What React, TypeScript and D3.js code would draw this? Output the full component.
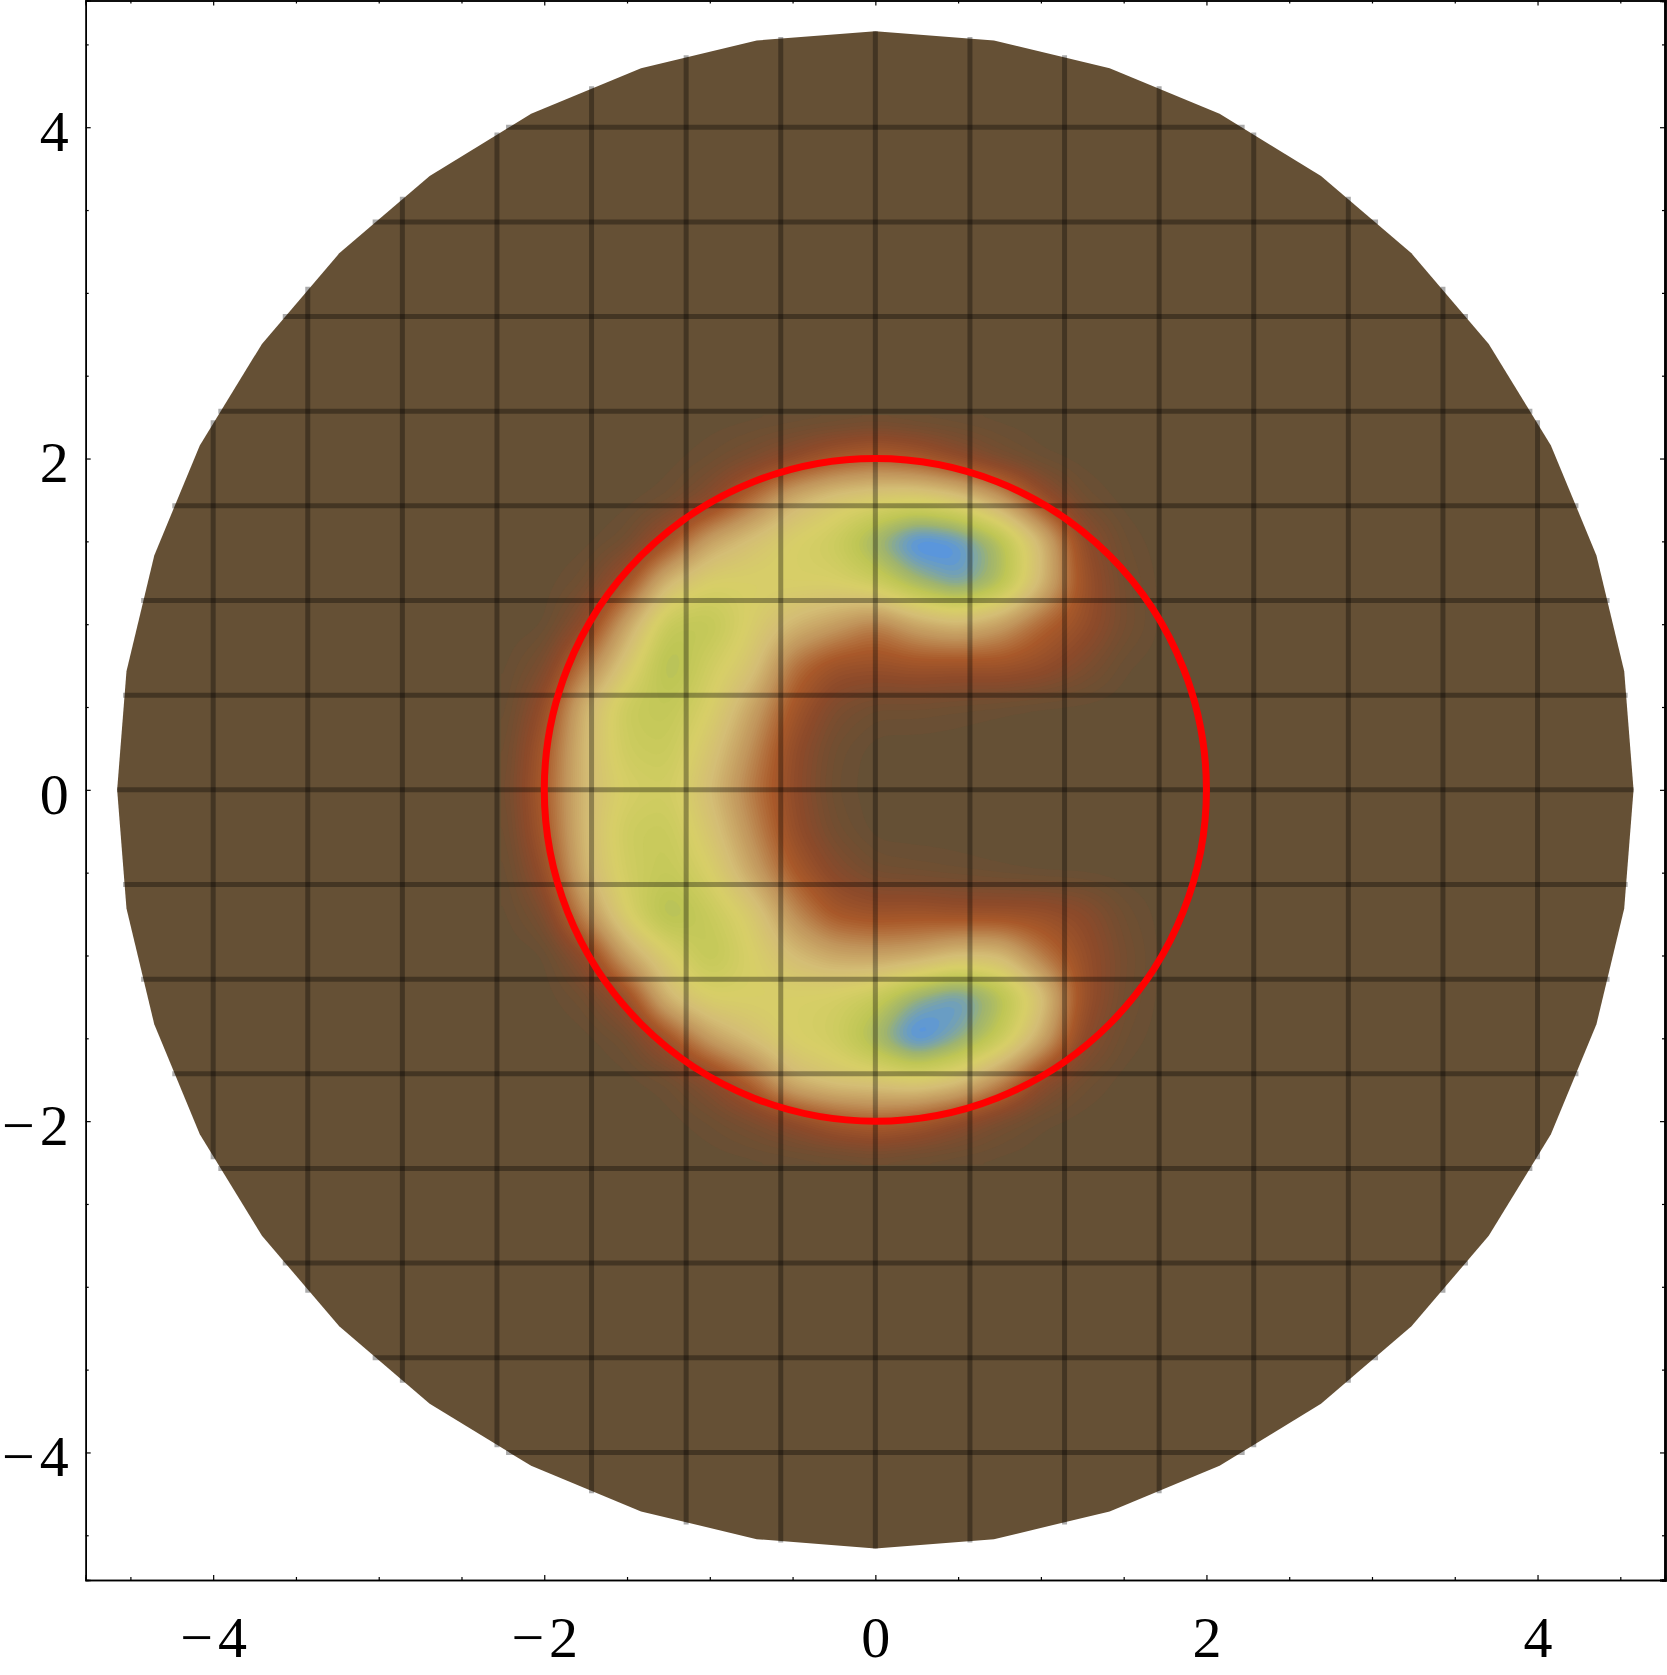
import React, { useEffect, useRef } from 'react';
import * as d3 from 'd3';

// axes
const majorTicks = [-4, -2, 0, 2, 4];
const minorTicks = [-4.5, -3.5, -3, -2.5, -1.5, -1, -0.5, 0.5, 1, 1.5, 2.5, 3, 3.5, 4.5];

// mesh lines drawn over the disc
const meshValues = [-4, -3.4286, -2.8571, -2.2857, -1.7143, -1.1429, -0.5714, 0, 0.5714, 1.1429, 1.7143, 2.2857, 2.8571, 3.4286, 4];
const discRadius = 4.58;
const discSides = 40;
const circleRadius = 2;

// density, one row per y, one column per x
const fieldX = [-2.25, -2, -1.75, -1.5, -1.25, -1, -0.75, -0.5, -0.25, 0, 0.25, 0.5, 0.75, 1, 1.25, 1.5, 1.75];
const fieldY = [2.25, 2, 1.75, 1.5, 1.25, 1, 0.75, 0.5, 0.25, 0, -0.25, -0.5, -0.75, -1, -1.25, -1.5, -1.75, -2, -2.25];
const fieldRows = [
  [0, 0, 0, 0, 0, 0, 0, 0, 0, 0.01, 0, 0, 0, 0, 0, 0, 0],
  [0, 0, 0, 0, 0, 0.02, 0.06, 0.12, 0.2, 0.24, 0.2, 0.12, 0.05, 0.01, 0, 0, 0],
  [0, 0, 0, 0, 0.02, 0.1, 0.27, 0.46, 0.56, 0.6, 0.62, 0.56, 0.4, 0.16, 0.03, 0, 0],
  [0, 0, 0, 0.03, 0.18, 0.42, 0.53, 0.62, 0.68, 0.84, 1, 0.96, 0.8, 0.5, 0.14, 0.02, 0],
  [0, 0, 0.03, 0.18, 0.5, 0.62, 0.62, 0.62, 0.62, 0.68, 0.82, 0.92, 0.8, 0.5, 0.18, 0.04, 0],
  [0, 0, 0.12, 0.42, 0.72, 0.74, 0.6, 0.48, 0.4, 0.3, 0.42, 0.48, 0.4, 0.25, 0.16, 0.05, 0],
  [0, 0.06, 0.3, 0.56, 0.8, 0.66, 0.55, 0.28, 0.17, 0.16, 0.18, 0.17, 0.18, 0.15, 0.08, 0.01, 0],
  [0, 0.14, 0.48, 0.7, 0.73, 0.62, 0.42, 0.2, 0.07, 0.03, 0.03, 0.02, 0.01, 0, 0, 0, 0],
  [0.01, 0.2, 0.5, 0.68, 0.7, 0.55, 0.35, 0.14, 0.03, 0, 0, 0, 0, 0, 0, 0, 0],
  [0.02, 0.22, 0.5, 0.63, 0.66, 0.5, 0.3, 0.13, 0.02, 0, 0, 0, 0, 0, 0, 0, 0],
  [0.01, 0.2, 0.5, 0.68, 0.7, 0.55, 0.35, 0.15, 0.04, 0, 0, 0, 0, 0, 0, 0, 0],
  [0, 0.14, 0.48, 0.66, 0.72, 0.62, 0.42, 0.22, 0.1, 0.04, 0.03, 0.02, 0.01, 0, 0, 0, 0],
  [0, 0.06, 0.35, 0.62, 0.8, 0.7, 0.58, 0.35, 0.2, 0.17, 0.18, 0.16, 0.16, 0.16, 0.12, 0.03, 0],
  [0, 0, 0.12, 0.42, 0.6, 0.74, 0.62, 0.5, 0.42, 0.4, 0.42, 0.5, 0.5, 0.3, 0.16, 0.05, 0],
  [0, 0, 0.03, 0.15, 0.5, 0.62, 0.62, 0.62, 0.64, 0.7, 0.86, 0.95, 0.8, 0.55, 0.17, 0.04, 0],
  [0, 0, 0, 0.03, 0.18, 0.4, 0.52, 0.62, 0.66, 0.82, 1, 0.88, 0.72, 0.45, 0.12, 0.02, 0],
  [0, 0, 0, 0, 0.02, 0.1, 0.25, 0.48, 0.55, 0.56, 0.6, 0.54, 0.35, 0.12, 0.03, 0, 0],
  [0, 0, 0, 0, 0, 0.02, 0.06, 0.12, 0.2, 0.24, 0.2, 0.12, 0.05, 0.01, 0, 0, 0],
  [0, 0, 0, 0, 0, 0, 0, 0, 0, 0.01, 0, 0, 0, 0, 0, 0, 0],
];

// value -> colour
const colourStops = [0, 0.12, 0.22, 0.36, 0.5, 0.62, 0.74, 0.83, 0.94];
const colourValues = ['#655035', '#8c4a2a', '#a9592a', '#c0935a', '#d4bd75', '#d7cf67', '#bfc655', '#9fb46e', '#5a96dc'];

const width = 1667;
const height = 1675;
const margin = { top: 0.5, right: 2, bottom: 95, left: 85.7 };

const App = () => {
  const svgRef = useRef<SVGSVGElement>(null);

  useEffect(() => {
    const svg = d3.select(svgRef.current);
    svg.selectAll('*').remove();

    const x = d3.scaleLinear().domain([-4.77, 4.77]).range([margin.left, width - margin.right]);
    const y = d3.scaleLinear().domain([-4.77, 4.765]).range([height - margin.bottom, margin.top]);
    const colour = d3.scaleLinear<string>().domain(colourStops).range(colourValues).clamp(true);

    // disc
    const disc = d3.range(discSides).map((i) => {
      const a = (i / discSides) * 2 * Math.PI;
      return [x(discRadius * Math.cos(a)), y(discRadius * Math.sin(a))];
    });
    svg
      .append('path')
      .attr('d', `M${disc.join('L')}Z`)
      .attr('fill', '#655035');

    // resample the table finer so d3.contours gives smooth shading
    const sub = 10;
    const nx = (fieldX.length - 1) * sub + 1;
    const ny = (fieldY.length - 1) * sub + 1;
    const fine = new Float64Array(nx * ny);
    for (let j = 0; j < ny; j++) {
      const r = Math.min(Math.floor(j / sub), fieldY.length - 2);
      const v = j / sub - r;
      for (let i = 0; i < nx; i++) {
        const c = Math.min(Math.floor(i / sub), fieldX.length - 2);
        const u = i / sub - c;
        const top = fieldRows[r][c] * (1 - u) + fieldRows[r][c + 1] * u;
        const bottom = fieldRows[r + 1][c] * (1 - u) + fieldRows[r + 1][c + 1] * u;
        fine[j * nx + i] = top * (1 - v) + bottom * v;
      }
    }
    d3.blur2({ data: fine, width: nx, height: ny }, 2);

    const stepX = fieldX[1] - fieldX[0];
    const stepY = fieldY[1] - fieldY[0];
    const project = d3.geoTransform({
      point(px, py) {
        this.stream.point(
          x(fieldX[0] + ((px - 0.5) / sub) * stepX),
          y(fieldY[0] + ((py - 0.5) / sub) * stepY)
        );
      },
    });
    const thresholds = d3.range(0.01, 1, 0.0125);
    const contours = d3.contours().size([nx, ny]).thresholds(thresholds)(fine as any);
    svg
      .append('g')
      .selectAll('path')
      .data(contours)
      .enter()
      .append('path')
      .attr('d', d3.geoPath(project) as any)
      .attr('fill', (d) => colour(d.value + 0.006));

    // mesh lines stop at the disc edge
    const mesh = svg.append('g').attr('stroke', '#000').attr('stroke-opacity', 0.33).attr('stroke-width', 5);
    meshValues.forEach((m) => {
      const h = Math.sqrt(discRadius * discRadius - m * m);
      mesh.append('line').attr('x1', x(m)).attr('x2', x(m)).attr('y1', y(-h)).attr('y2', y(h));
      mesh.append('line').attr('y1', y(m)).attr('y2', y(m)).attr('x1', x(-h)).attr('x2', x(h));
    });

    // red circle
    svg
      .append('ellipse')
      .attr('cx', x(0))
      .attr('cy', y(0))
      .attr('rx', x(circleRadius) - x(0))
      .attr('ry', y(0) - y(circleRadius))
      .attr('fill', 'none')
      .attr('stroke', '#ff0000')
      .attr('stroke-width', 7);

    // axes: ticks point inward, labels only on bottom and left
    const minus = (d: d3.NumberValue) => `${d}`.replace('-', '\u2212');
    const addAxis = (axis: any, transform: string, labelled: boolean) => {
      const g = svg.append('g').attr('transform', transform);
      g.call(axis.tickValues(majorTicks).tickSize(-5).tickPadding(0).tickFormat(labelled ? minus : () => ''));
      g.append('g').call(axis.tickValues(minorTicks).tickSize(-3).tickFormat(() => ''));
      g.selectAll('path.domain').attr('stroke-width', 1.5);
      g.selectAll('line').attr('stroke-width', 1.2);
      return g;
    };

    const bottom = height - margin.bottom;
    const right = width - margin.right;
    const labelStyle = (g: any) =>
      g
        .selectAll('text')
        .attr('font-family', '"Liberation Serif", serif')
        .attr('font-size', 58)
        .attr('fill', '#000')
        .attr('letter-spacing', 5);

    const gBottom = addAxis(d3.axisBottom(x), `translate(0,${bottom})`, true);
    labelStyle(gBottom);
    gBottom.selectAll('text').attr('y', 36).attr('dx', 2.5);
    const gLeft = addAxis(d3.axisLeft(y), `translate(${margin.left},0)`, true);
    labelStyle(gLeft);
    gLeft.selectAll('text').attr('x', -12).attr('dy', '0.4em');
    addAxis(d3.axisTop(x), `translate(0,${margin.top})`, false);
    const gRight = addAxis(d3.axisRight(y), `translate(${right},0)`, false);
    gRight.selectAll('path.domain').attr('stroke-width', 2.5);
  }, []);

  return (
    <svg
      ref={svgRef}
      width={width}
      height={height}
      style={{ position: 'absolute', left: 0, top: 0, display: 'block', background: '#fff' }}
    />
  );
};

export default App;
